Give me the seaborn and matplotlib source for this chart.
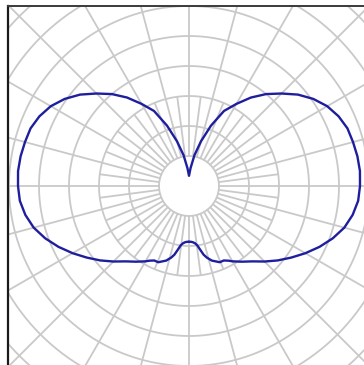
import numpy as np
import pandas as pd
import matplotlib
matplotlib.use("Agg")
import matplotlib.pyplot as plt
import seaborn as sns

# Luminous intensity distribution (C0-C180 plane), gamma measured from nadir
gamma_deg = [0, 2, 4, 6, 8, 10, 12, 14, 17, 20, 22, 25, 28, 30, 35, 40, 45, 50,
             55, 60, 65, 70, 75, 80, 85, 90, 95, 100, 105, 110, 115, 120, 125,
             130, 135, 140, 145, 150, 155, 160, 165, 170, 175, 180]
intensity_cd = [93, 93, 94, 96, 100, 108, 117, 123, 130, 134, 137, 137, 141, 145,
                154, 164, 178, 193, 208, 224, 240, 255, 268, 277, 283, 285, 286,
                285, 283, 281, 275, 266, 253, 237, 218, 200, 180, 158, 138, 107,
                77, 52, 30, 17]

# Polar grid layout
ring_values = np.arange(50, 551, 50)
major_spokes = np.arange(0, 360, 15)
minor_spokes = np.arange(7.5, 360, 15)
inner_radius = 50
minor_outer = 150
outer_radius = 600

grid_color = "#c9c9c9"
curve_color = "#1e1e9e"

sns.set_theme(style="white")

W, H = 364, 365
fig = plt.figure(figsize=(W / 100, H / 100), dpi=100)
fig.patch.set_facecolor("white")

# pixel geometry of the diagram
cx, cy = 189, 186          # pole position
px_per_cd = 0.6            # 50 cd per 30 px ring
left_px, top_px = 8, 6     # framed edges
ext = 1.05
ax = fig.add_axes([left_px / W, 1 - ext, ext - left_px / W, ext - top_px / H])
ax.set_xlim((left_px - cx) / px_per_cd, (ext * W - cx) / px_per_cd)
ax.set_ylim((cy - ext * H) / px_per_cd, (cy - top_px) / px_per_cd)
ax.set_facecolor("white")

# grid rings
t = np.linspace(0, 2 * np.pi, 721)
for r in ring_values:
    ax.plot(r * np.cos(t), r * np.sin(t), color=grid_color, lw=1.3, zorder=1)

# spokes
for a in major_spokes:
    rad = np.deg2rad(a)
    ax.plot([inner_radius * np.sin(rad), outer_radius * np.sin(rad)],
            [inner_radius * np.cos(rad), outer_radius * np.cos(rad)],
            color=grid_color, lw=1.3, zorder=1)
for a in minor_spokes:
    rad = np.deg2rad(a)
    ax.plot([inner_radius * np.sin(rad), minor_outer * np.sin(rad)],
            [inner_radius * np.cos(rad), minor_outer * np.cos(rad)],
            color=grid_color, lw=1.3, zorder=1)

# curve: right half then mirrored left half
g = np.deg2rad(np.array(gamma_deg, dtype=float))
I = np.array(intensity_cd, dtype=float)
xr = I * np.sin(g)
yr = -I * np.cos(g)
df = pd.DataFrame({
    "x": np.concatenate([xr, -xr[::-1]]),
    "y": np.concatenate([yr, yr[::-1]]),
})
sns.lineplot(data=df, x="x", y="y", sort=False, estimator=None,
             color=curve_color, lw=1.7, ax=ax, zorder=3)

ax.set_xticks([])
ax.set_yticks([])
ax.set_xlabel("")
ax.set_ylabel("")
for side in ("right", "bottom"):
    ax.spines[side].set_visible(False)
ax.spines["left"].set_color("#1a1a1a")
ax.spines["left"].set_linewidth(1.6)
ax.spines["top"].set_color("#3a3a3a")
ax.spines["top"].set_linewidth(1.4)

fig.savefig("out.png", dpi=100, facecolor="white")
